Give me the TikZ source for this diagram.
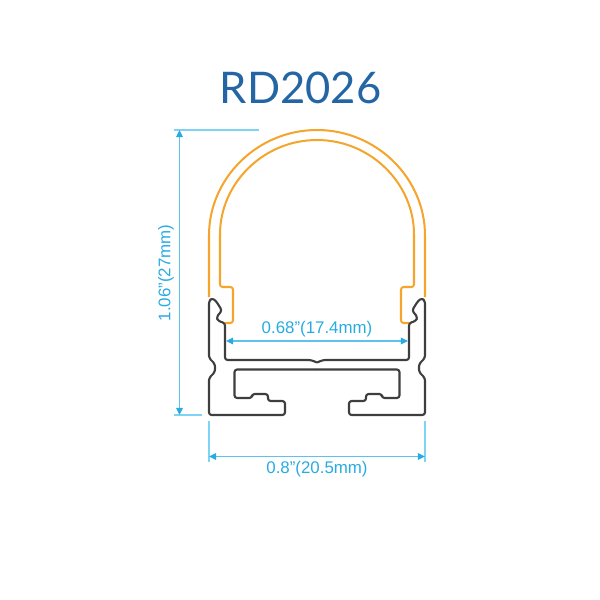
\documentclass[tikz,border=0pt]{standalone}
\usepackage{fontspec}
\setmainfont{Liberation Sans}
\newfontfamily\titlefont{Lato}
\usetikzlibrary{calc, arrows.meta}
\definecolor{titleblue}{HTML}{2465A3}
\definecolor{dimblue}{HTML}{29ABE2}
\definecolor{extblue}{HTML}{7FD3F5}
\definecolor{coverorange}{HTML}{F5A52B}
\definecolor{railgray}{HTML}{3E3E3E}
\tikzset{
	dimline/.style={draw=extblue!60!dimblue,line width=0.6pt,{Triangle[length=4pt,width=3.8pt,color=dimblue]}-{Triangle[length=4pt,width=3.8pt,color=dimblue]}},
	extline/.style={draw=extblue,line width=0.7pt},
	dimlabel/.style={text=dimblue,font=\fontsize{9.6}{11}\selectfont,inner sep=0pt},
	cover/.style={draw=coverorange,line width=1.15pt,rounded corners=1.5pt},
	rail/.style={draw=railgray,line width=1.2pt,rounded corners=1.5pt,line join=round}
}
\begin{document}
\begin{tikzpicture}[x=0.02cm,y=-0.02cm]
	\useasboundingbox (0,0) rectangle (600,600);
	\node[text=titleblue,font=\titlefont\fontsize{24.8}{28}\selectfont,inner sep=0pt](title)at(300.5,88){RD2026};
	% both halves of the section
	\foreach \m in {1,-1}{
		\begin{scope}[shift={(317,0)},xscale=\m,shift={(-317,0)}]
			\draw[cover](209,297)--(209,238) arc[start angle=180,end angle=270,radius=108]; %outer
			\draw[cover](317,140) arc[start angle=270,end angle=180,radius=97]--(220,287)--(233,287)--(233,323)--(225,323); %inner
			\draw[rail](317,362.5)--(311,360)--(225,360)--(225,323)
				--(218,321)--(216.5,317)--(222,310.5)--(216,301)--(212,298)--(209,301)
				--(209,358)--(215,364)--(215,372)--(209,378)--(209,415)--(285,415)--(285,401)
				--(268,401)--(268,394)--(252,394)--(252,398)--(234.5,398)--(234.5,369.5)--(317,369.5);
		\end{scope}
	}
	% dimensions
	\coordinate(Ht)at(179.5,130);
	\coordinate(Hb)at(179.5,415);
	\coordinate(Wl)at(209,456.5);
	\coordinate(Wr)at(425,456.5);
	\coordinate(Il)at(226,341);
	\coordinate(Ir)at(408,341);
	\coordinate(HtE)at(259,130);
	\coordinate(HtS)at(174,130);
	\coordinate(HbE)at(202,415);
	\coordinate(HbS)at(174,415);
	\coordinate(WlS)at(209,421);
	\coordinate(WlE)at(209,462);
	\coordinate(WrS)at(425,421);
	\coordinate(WrE)at(425,462);
	\draw[extline](HtS)--(HtE);
	\draw[extline](HbS)--(HbE);
	\draw[extline](WlS)--(WlE);
	\draw[extline](WrS)--(WrE);
	\draw[dimline](Ht)--(Hb);
	\draw[dimline](Wl)--(Wr);
	\draw[dimline](Il)--(Ir);
	\node[dimlabel,rotate=90](hlabel)at(166,273){1.06"(27mm)};
	\node[dimlabel](ilabel)at(317,329){0.68"(17.4mm)};
	\node[dimlabel](wlabel)at(317,469){0.8"(20.5mm)};
\end{tikzpicture}
\end{document}
